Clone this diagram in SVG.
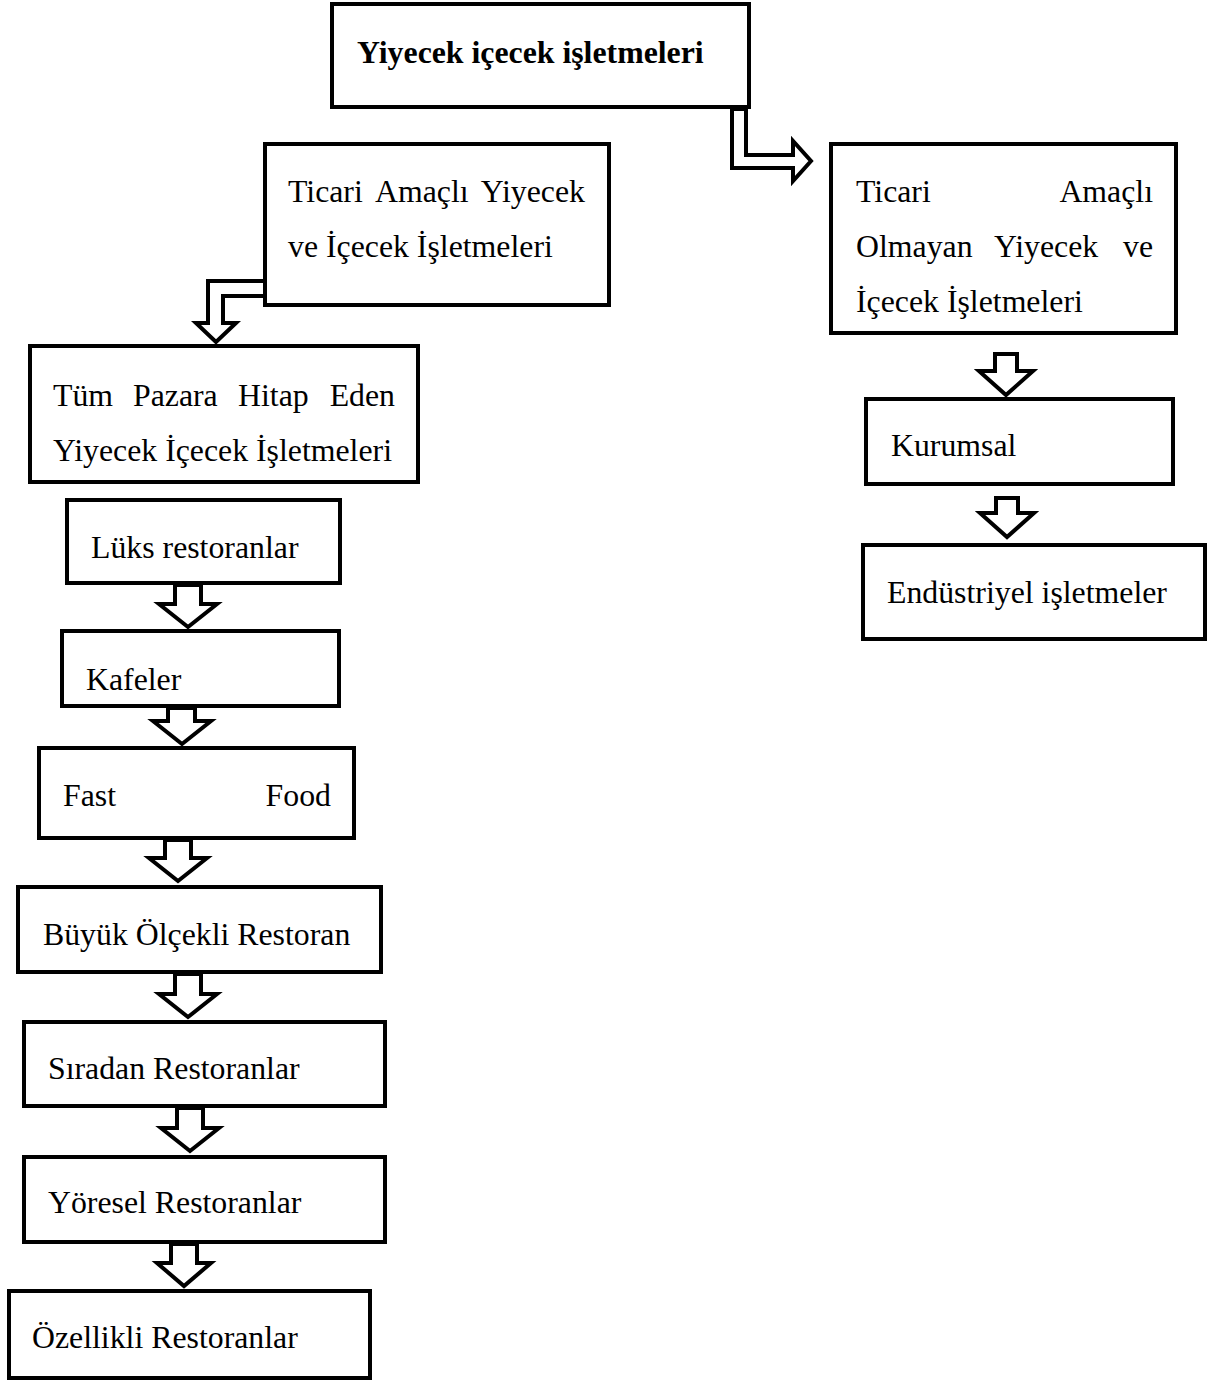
<svg xmlns="http://www.w3.org/2000/svg" width="1208" height="1381" viewBox="0 0 1208 1381">
<style>
.box{fill:#fff;stroke:#000;stroke-width:4}
.arr{fill:#fff;stroke:#000;stroke-width:4;stroke-linejoin:miter}
text{font-family:"Liberation Serif","Times New Roman",serif;font-size:31.8px;fill:#000}
.b{font-weight:bold}
.e{text-anchor:end}
</style>
<rect width="1208" height="1381" fill="#fff"/>
<g id="n-root"><rect class="box" x="332" y="4" width="417" height="103"/><text class="b" x="357" y="63">Yiyecek içecek işletmeleri</text></g>
<g id="n-ticari"><rect class="box" x="265" y="144" width="344" height="161"/>
<text x="288" y="202">Ticari</text><text x="375" y="202">Amaçlı</text><text class="e" x="585" y="202">Yiyecek</text>
<text x="288" y="257">ve İçecek İşletmeleri</text></g>
<g id="n-ticari-olmayan"><rect class="box" x="831" y="144" width="345" height="189"/>
<text x="856" y="202">Ticari</text><text class="e" x="1153" y="202">Amaçlı</text>
<text x="856" y="257">Olmayan</text><text x="994" y="257">Yiyecek</text><text class="e" x="1153" y="257">ve</text>
<text x="856" y="312">İçecek İşletmeleri</text></g>
<g id="n-tum"><rect class="box" x="30" y="346" width="388" height="136"/>
<text x="53" y="406">Tüm</text><text x="133" y="406">Pazara</text><text x="238" y="406">Hitap</text><text class="e" x="395" y="406">Eden</text>
<text x="53" y="461">Yiyecek İçecek İşletmeleri</text></g>
<g id="n-luks"><rect class="box" x="67" y="500" width="273" height="83"/><text x="91" y="558">Lüks restoranlar</text></g>
<g id="n-kafeler"><rect class="box" x="62" y="631" width="277" height="75"/><text x="86" y="690">Kafeler</text></g>
<g id="n-fastfood"><rect class="box" x="39" y="748" width="315" height="90"/><text x="63" y="806">Fast</text><text class="e" x="331" y="806">Food</text></g>
<g id="n-buyuk"><rect class="box" x="18" y="887" width="363" height="85"/><text x="43" y="945">Büyük Ölçekli Restoran</text></g>
<g id="n-siradan"><rect class="box" x="24" y="1022" width="361" height="84"/><text x="48" y="1079">Sıradan Restoranlar</text></g>
<g id="n-yoresel"><rect class="box" x="24" y="1157" width="361" height="85"/><text x="48" y="1213">Yöresel Restoranlar</text></g>
<g id="n-ozellikli"><rect class="box" x="9" y="1291" width="361" height="87"/><text x="32" y="1348">Özellikli Restoranlar</text></g>
<g id="n-kurumsal"><rect class="box" x="866" y="399" width="307" height="85"/><text x="891" y="456">Kurumsal</text></g>
<g id="n-endustriyel"><rect class="box" x="863" y="545" width="342" height="94"/><text x="887" y="603">Endüstriyel işletmeler</text></g>
<g id="connectors">
<polygon class="arr" points="732,109 732,168 793,168 793,181 811,161 793,141 793,155 746,155 746,109"/>
<polygon class="arr" points="265,281 208,281 208,323 196,323 216,342 236,323 223,323 223,296 265,296"/>
<polygon class="arr" points="175,585 175,604 159,604 188,627 217,604 201,604 201,585"/>
<polygon class="arr" points="168,708 168,721 153,721 182,744 211,721 195,721 195,708"/>
<polygon class="arr" points="165,840 165,858 149,858 178,881 207,858 191,858 191,840"/>
<polygon class="arr" points="175,974 175,994 159,994 188,1017 217,994 201,994 201,974"/>
<polygon class="arr" points="177,1108 177,1128 161,1128 190,1151 219,1128 203,1128 203,1108"/>
<polygon class="arr" points="171,1244 171,1263 157,1263 184,1286 211,1263 197,1263 197,1244"/>
<polygon class="arr" points="995,354 995,371 979,371 1006,395 1033,371 1017,371 1017,354"/>
<polygon class="arr" points="996,498 996,513 980,513 1007,537 1034,513 1018,513 1018,498"/>
</g>
</svg>
